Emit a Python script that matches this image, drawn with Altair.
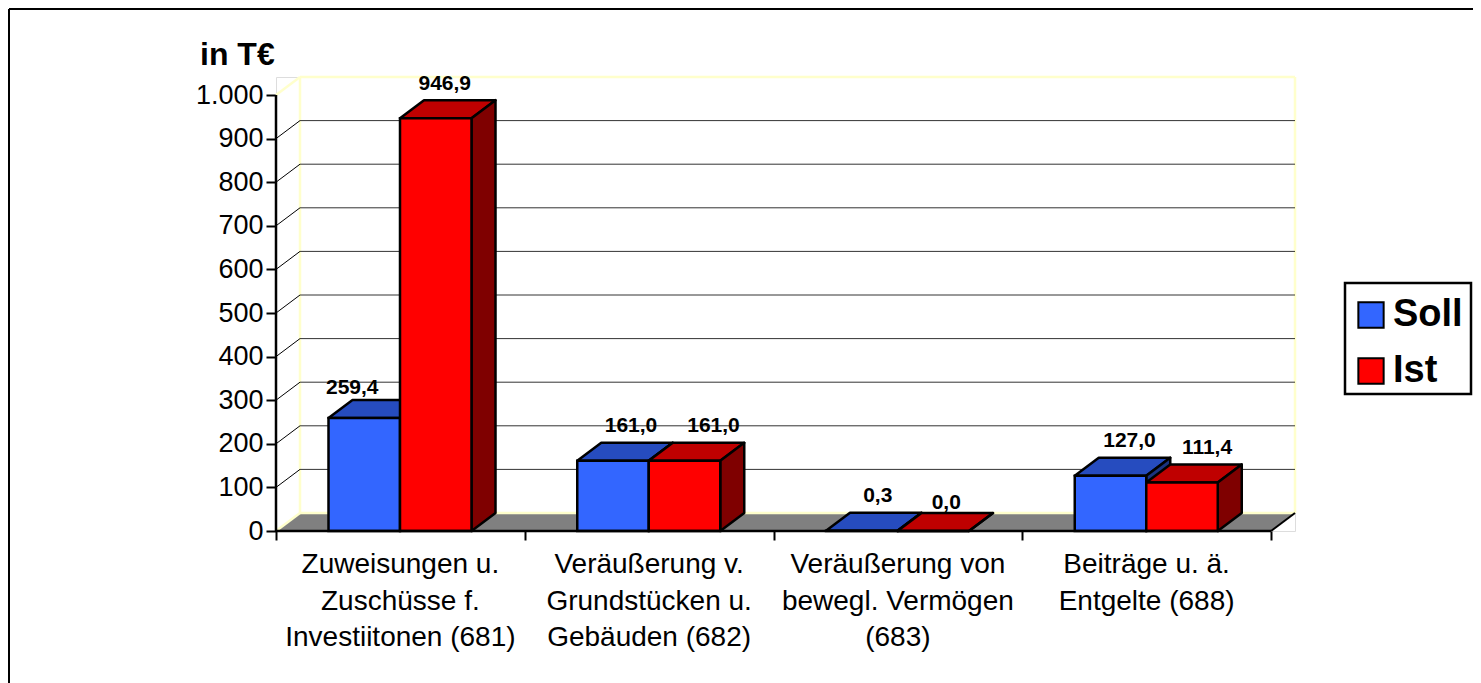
import altair as alt
import pandas as pd

categories = ["Zuweisungen u.\nZuschüsse f.\nInvestiitonen (681)",
              "Veräußerung v.\nGrundstücken u.\nGebäuden (682)",
              "Veräußerung von\nbewegl. Vermögen\n(683)",
              "Beiträge u. ä.\nEntgelte (688)"]
soll = [259.4, 161.0, 0.3, 127.0]
ist = [946.9, 161.0, 0.0, 111.4]
y_ticks = [0, 100, 200, 300, 400, 500, 600, 700, 800, 900, 1000]
x_ticks = [0, 1, 2, 3, 4]
grid_values = [100, 200, 300, 400, 500, 600, 700, 800, 900]

# label nudges in px, as placed by hand in the original
soll_nudge_x = [-12, 18, 16, 19]
ist_nudge_x = [9, 29, 13, 25]
soll_nudge_y = [13, 18, 18, 18]
ist_nudge_y = [18, 18, 12, 18]

PX_X = 248.75  # px per category
PX_Y = 0.436   # px per value unit
DX = 24 / PX_X
DV = 18 / PX_Y
GAP = 52.5 / PX_X
BAR = 71.5 / PX_X
W = 1019
H = 454

xs = alt.Scale(domain=[0, 4 + DX], nice=False, zero=False)
ys = alt.Scale(domain=[0, 1000 + DV], nice=False, zero=False)

x_ax = alt.Axis(values=x_ticks, domain=False, grid=False, labels=False, tickSize=9,
                tickWidth=2, tickColor="black", title=None)
y_ax = alt.Axis(values=y_ticks, domain=False, grid=False, tickSize=10, tickWidth=2,
                tickColor="black", labelFontSize=27, labelFont="Liberation Sans",
                labelColor="black", labelPadding=3, title=None,
                labelExpr="replace(format(datum.value, ','), ',', '.')")


def X(f="x"):
    return alt.X(f"{f}:Q", scale=xs, axis=x_ax, title=None)


def Y(f="y"):
    return alt.Y(f"{f}:Q", scale=ys, axis=y_ax, title=None)


def segs(rows):
    return pd.DataFrame(rows, columns=["x", "y", "x2", "y2"])


def rule(rows, color, width):
    return alt.Chart(segs(rows)).mark_rule(color=color, strokeWidth=width).encode(
        x=X("x"), y=Y("y"), x2="x2:Q", y2="y2:Q")


# floor
floor = alt.Chart(pd.DataFrame({"y": [0, DV], "a": [0, DX], "b": [4, 4 + DX]})).mark_area(
    orient="horizontal", color="#808080").encode(y=Y("y"), x=X("a"), x2="b:Q")

# walls
wall_lines = rule([
    [DX, DV, DX, 1000 + DV],
    [DX, 1000 + DV, 4 + DX, 1000 + DV],
    [4 + DX, DV, 4 + DX, 1000 + DV],
    [DX, DV, 4 + DX, DV],
    [0, 1000, DX, 1000 + DV],
    [0, 0, DX, DV],
], "#FFFFCC", 2.5)
grid_back = rule([[DX, v + DV, 4 + DX, v + DV] for v in grid_values], "#333333", 1)
grid_side = rule([[0, v, DX, v + DV] for v in grid_values], "#000000", 1)
floor_edge = rule([[4, 0, 4 + DX, DV]], "#000000", 2)
axis_lines = rule([[0, 0, 0, 1000], [0, 0, 4, 0]], "#000000", 2.5)


def bars(name, values, slot, top_c, side_c):
    top, side, front = [], [], []
    for i, v in enumerate(values):
        l = i + GAP + slot * BAR
        r = l + BAR
        top += [{"g": i, "y": v, "a": l, "b": r}, {"g": i, "y": v + DV, "a": l + DX, "b": r + DX}]
        side += [{"g": i, "x": r, "y": v, "b": 0}, {"g": i, "x": r + DX, "y": v + DV, "b": DV}]
        front.append({"series": name, "x": l, "x2": r, "y": v, "y2": 0})
    top_l = alt.Chart(pd.DataFrame(top)).mark_area(
        orient="horizontal", color=top_c, stroke="black", strokeWidth=2.5, strokeJoin="round"
    ).encode(y=Y("y"), x=X("a"), x2="b:Q", detail="g:N")
    side_l = alt.Chart(pd.DataFrame(side)).mark_area(
        orient="vertical", color=side_c, stroke="black", strokeWidth=2.5, strokeJoin="round"
    ).encode(x=X("x"), y=Y("y"), y2="b:Q", detail="g:N")
    front_l = alt.Chart(pd.DataFrame(front)).mark_rect(
        stroke="black", strokeWidth=2.5
    ).encode(
        x=X("x"), x2="x2:Q", y=Y("y"), y2="y2:Q",
        color=alt.Color("series:N", scale=alt.Scale(domain=["Soll", "Ist"], range=["#3366FF", "#FF0000"]),
                        legend=alt.Legend(
                            title=None, orient="none", legendX=1067, legendY=210,
                            symbolType="square", symbolSize=640, symbolStrokeColor="black",
                            symbolStrokeWidth=2, labelFontSize=38, labelFontWeight="bold",
                            labelFont="Liberation Sans", labelColor="black",
                            padding=9, rowPadding=18, labelOffset=3, symbolOffset=0)))
    return [top_l, side_l, front_l]


def value_labels(values, slot, nudge_x, nudge_y):
    rows = []
    for i, v in enumerate(values):
        rows.append({
            "x": i + GAP + (slot + 0.5) * BAR + nudge_x[i] / PX_X,
            "y": v + DV + nudge_y[i] / PX_Y,
            "t": f"{v:.1f}".replace(".", ","),
        })
    return alt.Chart(pd.DataFrame(rows)).mark_text(
        font="Liberation Sans", fontSize=21, fontWeight="bold", color="black", baseline="middle", dy=1.5
    ).encode(x=X("x"), y=Y("y"), text="t:N")


cat_labels = alt.Chart(pd.DataFrame({
    "x": [i + 0.5 for i in range(len(categories))], "t": categories
})).mark_text(
    font="Liberation Sans", fontSize=28, color="black", lineBreak="\n",
    lineHeight=36.5, baseline="middle", dy=0
).encode(x=X("x"), y=alt.value(488), text="t:N")

unit = alt.Chart(pd.DataFrame({"t": ["in T€"]})).mark_text(
    font="Liberation Sans", fontSize=32, fontWeight="bold", color="black", align="left", baseline="middle"
).encode(x=alt.value(-76), y=alt.value(-22), text="t:N")

frame_top = alt.Chart(pd.DataFrame({"a": [0]})).mark_rule(color="black", strokeWidth=2).encode(
    x=alt.value(-267), x2=alt.value(1197), y=alt.value(-68), y2=alt.value(-68))
frame_left = alt.Chart(pd.DataFrame({"a": [0]})).mark_rule(color="black", strokeWidth=2).encode(
    x=alt.value(-267), x2=alt.value(-267), y=alt.value(-68), y2=alt.value(610))
legend_box = alt.Chart(pd.DataFrame({"a": [0]})).mark_rect(
    fill="white", stroke="black", strokeWidth=2.5
).encode(x=alt.value(1069), x2=alt.value(1195), y=alt.value(206), y2=alt.value(317))

layers = [floor, wall_lines, grid_back, grid_side, floor_edge, legend_box]
layers += bars("Soll", soll, 0, "#264CBF", "#1A3380")
layers += bars("Ist", ist, 1, "#BF0000", "#7F0000")
layers += [axis_lines, value_labels(soll, 0, soll_nudge_x, soll_nudge_y),
           value_labels(ist, 1, ist_nudge_x, ist_nudge_y), cat_labels, unit, frame_top, frame_left]

chart = alt.layer(*layers).properties(
    width=W, height=H,
    autosize=alt.AutoSizeParams(type="none"),
    padding={"left": 268, "top": 69, "right": 178, "bottom": 152},
).configure_view(stroke=None).configure(background="white")

chart.save("out.html", embed_options={"renderer": "svg", "actions": False})
